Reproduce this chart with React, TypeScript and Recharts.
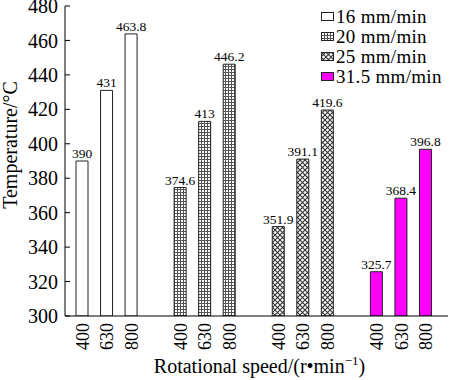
import React from 'react';
import { BarChart, Bar, XAxis, YAxis, Cell, LabelList, Legend } from 'recharts';

const FONT = '"Liberation Serif", "Times New Roman", serif';

const rotationalSpeeds = ['400', '630', '800'];
const feedRates = ['16 mm/min', '20 mm/min', '25 mm/min', '31.5 mm/min'];
const temp16 = [390, 431, 463.8];
const temp20 = [374.6, 413, 446.2];
const temp25 = [351.9, 391.1, 419.6];
const temp315 = [325.7, 368.4, 396.8];
const yTicks = [300, 320, 340, 360, 380, 400, 420, 440, 460, 480];
const seriesFills = ['#ffffff', 'url(#pGrid)', 'url(#pCross)', '#ff00ff'];

const seriesValues = [temp16, temp20, temp25, temp315];

type Row = { key: string; label: string; value: number | null; series: number };
const rows: Row[] = [];
seriesValues.forEach((vals, s) => {
  if (s > 0) rows.push({ key: `gap${s}`, label: '', value: null, series: -1 });
  vals.forEach((v, i) => rows.push({ key: `s${s}_${i}`, label: rotationalSpeeds[i], value: v, series: s }));
});

const XTick = (props: any) => {
  const { x, y, payload } = props;
  const row = rows.find((r) => r.key === payload.value);
  const label = row ? row.label : '';
  return (
    <g transform={`translate(${x},${y})`}>
      <text transform="rotate(-90)" x={-7} y={0} dy="0.35em" textAnchor="end" fontSize={18} fontFamily={FONT} fill="#000">
        {label}
      </text>
    </g>
  );
};

const XTitle = (props: any) => {
  const { x, y, width, height } = props.viewBox;
  return (
    <text x={x + width / 2 + 3} y={y + height - 7} textAnchor="middle" fontSize={20} fontFamily={FONT} fill="#000">
      Rotational speed/(r•min
      <tspan dy={-8} fontSize={13}>−1</tspan>
      <tspan dy={8}>)</tspan>
    </text>
  );
};

const YTitle = (props: any) => {
  const { y, height } = props.viewBox;
  const cx = 10;
  const cy = y + height / 2 - 16;
  return (
    <text x={cx} y={cy} dy="0.35em" transform={`rotate(-90, ${cx}, ${cy})`} textAnchor="middle" fontSize={20} fontFamily={FONT} fill="#000">
      Temperature/°C
    </text>
  );
};

const renderLegend = () => (
  <div style={{ fontFamily: FONT, fontSize: 19, color: '#000' }}>
    {feedRates.map((name, i) => (
      <div key={name} style={{ display: 'flex', alignItems: 'center', height: 20, lineHeight: '20px', whiteSpace: 'nowrap', overflow: 'visible' }}>
        <svg width={14} height={10} style={{ marginRight: 1, flex: 'none' }}>
          <rect x={0.5} y={0.5} width={12} height={8} fill={seriesFills[i]} stroke="#222" strokeWidth={1} />
        </svg>
        <span style={{ display: 'inline-block', height: 20, lineHeight: '20px', letterSpacing: 0.3 }}>{name}</span>
      </div>
    ))}
  </div>
);

export default function App() {
  return (
    <div style={{ position: 'absolute', left: 0, top: 0, background: '#fff' }}>
      <BarChart width={450} height={380} data={rows} margin={{ top: 6, right: 2, bottom: 0, left: 0 }}>
        <defs>
          <pattern id="pGrid" width={3} height={3} patternUnits="userSpaceOnUse">
            <rect width={3} height={3} fill="#ffffff" />
            <path d="M0 0.5H3M0.5 0V3" stroke="#555" strokeWidth={1} />
          </pattern>
          <pattern id="pCross" width={5} height={5} patternUnits="userSpaceOnUse">
            <rect width={5} height={5} fill="#ffffff" />
            <path d="M-1 -1L6 6M6 -1L-1 6" stroke="#333" strokeWidth={1.1} />
          </pattern>
        </defs>
        <XAxis
          dataKey="key"
          interval={0}
          tickSize={0}
          tickMargin={0}
          tickLine={false}
          tick={<XTick />}
          height={64}
          padding={{ left: 5, right: 10 }}
          axisLine={{ stroke: '#000' }}
          label={<XTitle />}
        />
        <XAxis
          xAxisId="top"
          orientation="top"
          dataKey="key"
          tick={false}
          tickLine={false}
          height={0}
          axisLine={{ stroke: '#000' }}
        />
        <YAxis
          type="number"
          domain={[300, 480]}
          ticks={yTicks}
          interval={0}
          allowDataOverflow
          width={65}
          tickSize={-5}
          tickMargin={12}
          tick={{ fontSize: 20, fill: '#000', fontFamily: FONT }}
          tickLine={{ stroke: '#000' }}
          axisLine={{ stroke: '#000' }}
          label={<YTitle />}
        />
        <YAxis
          yAxisId="right"
          orientation="right"
          type="number"
          domain={[300, 480]}
          tick={false}
          tickLine={false}
          width={0}
          axisLine={{ stroke: '#000' }}
        />
        <Legend
          layout="horizontal"
          verticalAlign="middle"
          align="center"
          content={renderLegend}
          wrapperStyle={{ position: 'absolute', top: 7, left: 321, width: 'auto', height: 'auto' }}
        />
        <Bar dataKey="value" barSize={12} stroke="#222" strokeWidth={1} isAnimationActive={false}>
          {rows.map((r) => (
            <Cell key={r.key} fill={r.series >= 0 ? seriesFills[r.series] : 'none'} />
          ))}
          <LabelList
            dataKey="value"
            position="top"
            offset={3}
            fontSize={13.5}
            fontFamily={FONT}
            fill="#000"
            formatter={(v: any) => (v == null ? '' : v)}
          />
        </Bar>
      </BarChart>
    </div>
  );
}
